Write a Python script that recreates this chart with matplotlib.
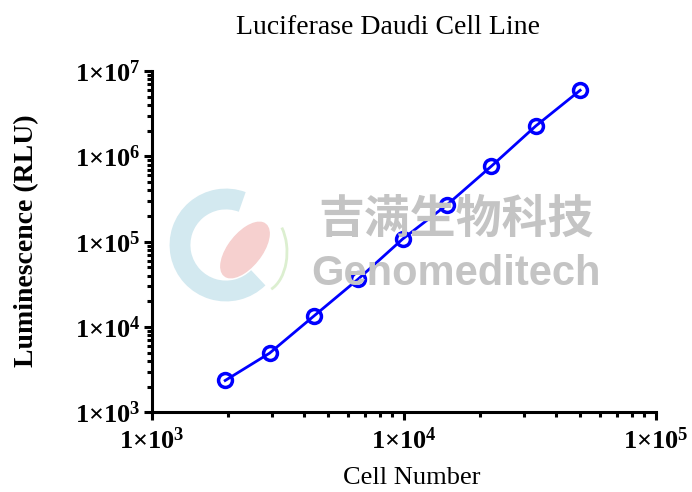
import numpy as np
import matplotlib.pyplot as plt
from matplotlib.patches import Arc, Ellipse
from matplotlib.ticker import LogLocator, FixedLocator, NullFormatter

plt.rcParams['font.family'] = ['Liberation Serif', 'DejaVu Serif']
plt.rcParams['mathtext.fontset'] = 'custom'
plt.rcParams['mathtext.rm'] = 'Liberation Serif'
plt.rcParams['mathtext.bf'] = 'Liberation Serif:bold'

# data
cell_number = [1951, 2926, 4390, 6584, 9877, 14815, 22222, 33333, 50000]
luminescence = [2370, 4950, 13500, 36600, 107700, 271000, 768000, 2270000, 5940000]

x_ticks = [1e3, 1e4, 1e5]
x_labels = [r'$\mathbf{1{\times}10^{%d}}$' % e for e in range(3, 6)]
y_ticks = [1e3, 1e4, 1e5, 1e6, 1e7]
y_labels = [r'$\mathbf{1{\times}10^{%d}}$' % e for e in range(3, 8)]

W, H = 692, 492
fig = plt.figure(figsize=(W / 100, H / 100), dpi=100)
ax = fig.add_axes([0.2197, 0.1616, 0.7283, 0.6941])

# watermark (logo + company name)
fig.patches.append(Arc((226 / W, 1 - 245 / H), 92 / W, 92 / H, theta1=75, theta2=305,
                       lw=15, color='#d3e9f0', transform=fig.transFigure, zorder=0))
fig.patches.append(Ellipse((245 / W, 1 - 250 / H), 36 / W, 60 / H, angle=-25,
                           color='#f6d0cf', transform=fig.transFigure, zorder=0))
fig.patches.append(Arc((262 / W, 1 - 252 / H), 50 / W, 80 / H, theta1=-80, theta2=60,
                       lw=2, color='#dcefd0', transform=fig.transFigure, zorder=0))
fig.text(456 / W, 1 - 220 / H, '吉满生物科技', color='#c4c4c4', fontsize=33, fontweight='bold',
         family=['Noto Sans CJK SC'], ha='center', va='center', zorder=0)
fig.text(456 / W, 1 - 274 / H, 'Genomeditech', color='#c4c4c4', fontsize=30, fontweight='bold',
         family=['Liberation Sans'], ha='center', va='center', zorder=0)

ax.plot(cell_number, luminescence, color='#0000ff', lw=2.0, marker='o', ms=10,
        mfc='none', mec='#0000ff', mew=2.5, clip_on=False, zorder=3)

ax.set_xscale('log')
ax.set_yscale('log')
ax.set_xlim(1e3, 1e5)
ax.set_ylim(1e3, 1e7)
ax.patch.set_alpha(0)

ax.xaxis.set_major_locator(FixedLocator(x_ticks))
ax.set_xticklabels(x_labels)
ax.yaxis.set_major_locator(FixedLocator(y_ticks))
ax.set_yticklabels(y_labels)
ax.xaxis.set_minor_locator(LogLocator(base=10, subs=np.arange(2, 10)))
ax.yaxis.set_minor_locator(LogLocator(base=10, subs=np.arange(2, 10)))
ax.xaxis.set_minor_formatter(NullFormatter())
ax.yaxis.set_minor_formatter(NullFormatter())

for s in ['top', 'right']:
    ax.spines[s].set_visible(False)
for s in ['left', 'bottom']:
    ax.spines[s].set_linewidth(2.2)

ax.tick_params(which='major', length=6, width=2.2, labelsize=19, pad=2)
ax.tick_params(which='minor', length=3.5, width=2.2)
ax.tick_params(axis='x', which='major', pad=5)

fig.text(388 / W, 1 - 28 / H, 'Luciferase Daudi Cell Line', fontsize=20,
         ha='center', va='center')
ax.set_xlabel('Cell Number', fontsize=19, va='center')
ax.xaxis.set_label_coords((412 - 152) / 504, -(478 - 412) / 341.5)
ax.set_ylabel('Luminescence (RLU)', fontsize=20, fontweight='bold', va='center')
ax.yaxis.set_label_coords(-(152 - 27) / 504, (412 - 240) / 341.5)

fig.savefig('out.png', dpi=100)
